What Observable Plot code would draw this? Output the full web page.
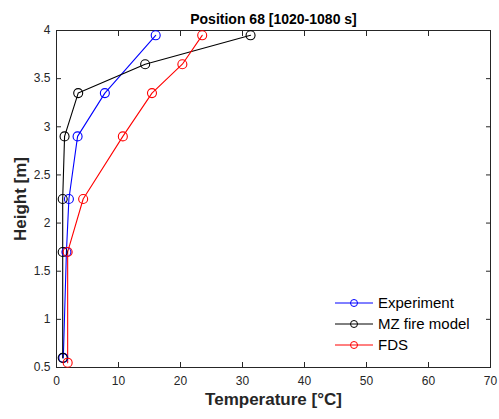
<!DOCTYPE html>
<html><head><meta charset="utf-8">
<script src="https://cdn.jsdelivr.net/npm/d3@7"></script>
<script src="https://cdn.jsdelivr.net/npm/@observablehq/plot@0.6"></script>
<style>
body{margin:0;background:#fff;font-family:"Liberation Sans",Arial,sans-serif;}
#chart{position:relative;width:499px;height:419px;}
</style></head><body><div id="chart"></div>
<script>
const heights = [3.95, 3.65, 3.35, 2.9, 2.25, 1.7, 0.6];
const expHeights = [3.95, 3.35, 2.9, 2.25, 1.7, 0.6];
const expTemp = [16.0, 7.8, 3.4, 2.0, 1.6, 1.1];
const mzTemp = [31.3, 14.3, 3.5, 1.3, 1.0, 1.0, 1.0];
const fdsHeights = [3.95, 3.65, 3.35, 2.9, 2.25, 1.7, 0.55];
const fdsTemp = [23.5, 20.3, 15.4, 10.7, 4.3, 1.8, 1.8];
const seriesNames = ["Experiment", "MZ fire model", "FDS"];
const seriesColors = ["#0000ff", "#000000", "#ff0000"];
const xTicks = [0,10,20,30,40,50,60,70];
const yTicks = [0.5,1,1.5,2,2.5,3,3.5,4];
const titleText = "Position 68 [1020-1080 s]";
const xLabel = "Temperature [°C]";
const yLabel = "Height [m]";

const rows = [];
expTemp.forEach((t,i)=>rows.push({s:seriesNames[0], x:t, y:expHeights[i]}));
mzTemp.forEach((t,i)=>rows.push({s:seriesNames[1], x:t, y:heights[i]}));
fdsTemp.forEach((t,i)=>rows.push({s:seriesNames[2], x:t, y:fdsHeights[i]}));

const axisColor = "#262626";
const fmt = d3.format("~g");
const chart = Plot.plot({
  width: 499, height: 419,
  marginLeft: 56, marginRight: 9, marginTop: 30, marginBottom: 52,
  style: {fontFamily: '"Liberation Sans", Arial, sans-serif', fontSize: "12px", color: axisColor, background: "white"},
  x: {domain: [0,70], ticks: xTicks},
  y: {domain: [0.5,4], ticks: yTicks},
  color: {domain: seriesNames, range: seriesColors},
  marks: [
    Plot.frame({stroke: axisColor, strokeWidth: 1}),
    Plot.axisX({ticks: xTicks, tickSize: -5, tickPadding: 14, tickFormat: fmt, label: null, fontSize: 12, stroke: axisColor, fill: axisColor}),
    Plot.axisX({ticks: xTicks, anchor: "top", tickSize: -5, tickFormat: () => "", label: null, stroke: axisColor}),
    Plot.axisY({ticks: yTicks, tickSize: -5, tickPadding: 11, tickFormat: fmt, label: null, fontSize: 12, stroke: axisColor, fill: axisColor}),
    Plot.axisY({ticks: yTicks, anchor: "right", tickSize: -5, tickFormat: () => "", label: null, stroke: axisColor}),
    Plot.line(rows, {x: "x", y: "y", z: "s", stroke: "s", strokeWidth: 1.1}),
    Plot.dot(rows, {x: "x", y: "y", stroke: "s", r: 4.5, strokeWidth: 1.1, fill: "none"}),
    Plot.text([titleText], {frameAnchor: "top", dy: -16, fontWeight: "bold", fontSize: 14, fill: "#000"}),
    Plot.text([xLabel], {frameAnchor: "bottom", dy: 37, fontWeight: "bold", fontSize: 17, fill: axisColor}),
    Plot.text([yLabel], {frameAnchor: "left", textAnchor: "middle", dx: -36, rotate: -90, fontWeight: "bold", fontSize: 17, fill: axisColor})
  ]
});
document.getElementById("chart").appendChild(chart);

// legend
const svg = d3.select(chart);
const lg = svg.append("g").attr("font-family", '"Liberation Sans", Arial, sans-serif').attr("font-size", 15).attr("text-anchor", "start");
seriesNames.forEach((n,i)=>{
  const y = 303 + i*21;
  lg.append("line").attr("x1",335).attr("x2",373).attr("y1",y).attr("y2",y).attr("stroke",seriesColors[i]);
  lg.append("circle").attr("cx",354).attr("cy",y).attr("r",3.5).attr("fill","none").attr("stroke",seriesColors[i]);
  lg.append("text").attr("x",378).attr("y",y).attr("dy","0.35em").attr("fill","#000").text(n);
});
</script></body></html>
